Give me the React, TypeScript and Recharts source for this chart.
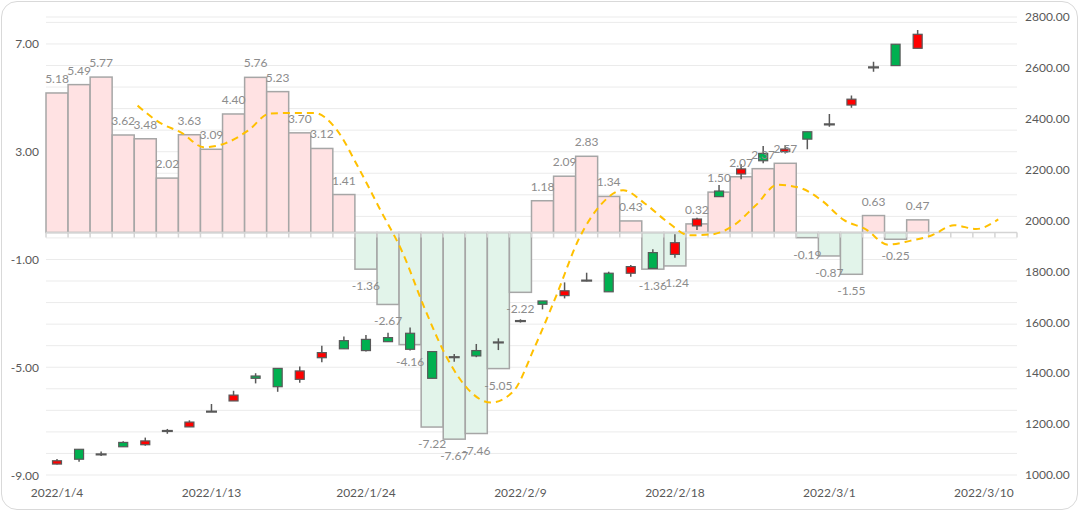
import React from "react";
import {
  ComposedChart,
  Bar,
  Line,
  XAxis,
  YAxis,
  CartesianGrid,
  ReferenceLine,
  LabelList,
} from "recharts";

const DATES = [
  "2022/1/4", "2022/1/5", "2022/1/6", "2022/1/7", "2022/1/10", "2022/1/11", "2022/1/12",
  "2022/1/13", "2022/1/14", "2022/1/17", "2022/1/18", "2022/1/19", "2022/1/20", "2022/1/21",
  "2022/1/24", "2022/1/25", "2022/1/26", "2022/1/27", "2022/1/28", "2022/2/7", "2022/2/8",
  "2022/2/9", "2022/2/10", "2022/2/11", "2022/2/14", "2022/2/15", "2022/2/16", "2022/2/17",
  "2022/2/18", "2022/2/21", "2022/2/22", "2022/2/23", "2022/2/24", "2022/2/25", "2022/2/28",
  "2022/3/1", "2022/3/2", "2022/3/3", "2022/3/4", "2022/3/7", "2022/3/8", "2022/3/9",
  "2022/3/10", "2022/3/11",
];

// bar values (left axis)
const CHANGE = [
  5.18, 5.49, 5.77, 3.62, 3.48, 2.02, 3.63, 3.09, 4.4, 5.76, 5.23, 3.7, 3.12, 1.41,
  -1.36, -2.67, -4.16, -7.22, -7.67, -7.46, -5.05, -2.22, 1.18, 2.09, 2.83, 1.34, 0.43,
  -1.36, -1.24, 0.32, 1.5, 2.07, 2.37, 2.57, -0.19, -0.87, -1.55, 0.63, -0.25, 0.47,
  null, null, null, null,
];

// candles (right axis)
const OPEN = [
  1043, 1101, 1081, 1128, 1119, 1173, 1189, 1249, 1291, 1389, 1419, 1376, 1461, 1528,
  1533, 1540, 1557, 1485, 1463, 1489, 1521, 1605, 1684, 1705, 1764, 1793, 1793, 1874,
  1867, 1979, 2116, 2183, 2264, 2271, 2349, 2378, 2454, 2602, 2693, 2677,
  null, null, null, null,
];
const HIGH = [
  1063, 1102, 1092, 1133, 1147, 1181, 1215, 1279, 1331, 1400, 1419, 1426, 1508, 1544,
  1550, 1559, 1580, 1485, 1476, 1515, 1537, 1612, 1684, 1757, 1795, 1799, 1825, 1887,
  1946, 2011, 2140, 2221, 2293, 2297, 2349, 2419, 2491, 2624, 2693, 2749,
  null, null, null, null,
];
const LOW = [
  1041, 1052, 1075, 1111, 1115, 1162, 1189, 1249, 1291, 1360, 1327, 1363, 1443, 1496,
  1485, 1524, 1489, 1380, 1445, 1463, 1491, 1599, 1651, 1694, 1761, 1720, 1779, 1812,
  1854, 1963, 2094, 2162, 2225, 2264, 2280, 2369, 2443, 2585, 2609, 2677,
  null, null, null, null,
];
const CLOSE = [
  1056, 1062, 1081, 1111, 1134, 1173, 1208, 1249, 1314, 1380, 1347, 1409, 1481, 1496,
  1489, 1524, 1494, 1380, 1463, 1468, 1521, 1605, 1671, 1724, 1764, 1720, 1819, 1812,
  1913, 2006, 2094, 2203, 2235, 2281, 2320, 2378, 2477, 2602, 2609, 2732,
  null, null, null, null,
];

// dashed average line (left axis)
const MA5 = [
  null, null, null, null,
  4.71, 4.08, 3.7, 3.17, 3.32, 3.78, 4.42, 4.44, 4.44, 3.84, 2.42, 0.84, -0.73, -2.8,
  -4.62, -5.84, -6.31, -5.92, -4.24, -2.29, -0.23, 1.04, 1.57, 1.07, 0.4, -0.1, -0.07,
  0.26, 1.0, 1.77, 1.66, 1.19, 0.47, 0.12, -0.45, -0.31, -0.1, 0.27, 0.13, 0.49,
];

const LEFT_GRID = [
  -9, -8.2, -7.4, -6.6, -5.8, -5, -4.2, -3.4, -2.6, -1.8, -1, -0.2, 0.6, 1.4, 2.2, 3,
  3.8, 4.6, 5.4, 6.2, 7, 7.8,
];
const LEFT_LABELS = [-9, -5, -1, 3, 7];
const RIGHT_TICKS = [1000, 1200, 1400, 1600, 1800, 2000, 2200, 2400, 2600, 2800];
const DATE_TICKS = ["2022/1/4", "2022/1/13", "2022/1/24", "2022/2/9", "2022/2/18", "2022/3/1", "2022/3/10"];

const data = DATES.map((date, i) => ({
  date,
  idx: i,
  change: CHANGE[i],
  open: OPEN[i],
  high: HIGH[i],
  low: LOW[i],
  close: CLOSE[i],
  ma: MA5[i],
}));

const AXIS_TEXT = "#595959";
const LABEL_TEXT = "#8c8c8c";

function LeftTick(props: any) {
  const { x, y, payload } = props;
  if (!LEFT_LABELS.includes(payload.value)) return <g />;
  return (
    <text x={x} y={y} textAnchor="end" dominantBaseline="central" fill={AXIS_TEXT} fontSize={12}>
      {payload.value.toFixed(2)}
    </text>
  );
}

function ChangeBar(props: any) {
  const { x, y, width, height, payload } = props;
  const v = payload?.change;
  if (v == null || height == null) return <g />;
  const top = Math.min(y, y + height);
  const h = Math.abs(height);
  return (
    <rect
      x={x}
      y={top}
      width={width}
      height={h}
      fill={v >= 0 ? "#ffe2e3" : "#e2f4ea"}
      stroke="#a6a6a6"
      strokeWidth={1.5}
    />
  );
}

function ChangeLabel(props: any) {
  const vb = props.viewBox ?? props;
  const value = props.value;
  if (value == null || vb == null) return <g />;
  const { x, y, width, height } = vb;
  const top = Math.min(y, y + height);
  const bottom = Math.max(y, y + height);
  const ty = value >= 0 ? top - 10 : bottom + 21;
  return (
    <text x={x + width / 2} y={ty} textAnchor="middle" fill={LABEL_TEXT} fontSize={12}>
      {Number(value).toFixed(2)}
    </text>
  );
}

function ZeroAxis(props: any) {
  const { x1, x2, y1 } = props;
  const n = DATES.length;
  const step = (x2 - x1) / n;
  return (
    <g>
      <line x1={x1} x2={x2} y1={y1} y2={y1} stroke="#d4d4d4" strokeWidth={1.5} />
      {Array.from({ length: n + 1 }, (_, k) => (
        <line
          key={k}
          x1={x1 + k * step}
          x2={x1 + k * step}
          y1={y1}
          y2={y1 + 5}
          stroke="#d4d4d4"
          strokeWidth={1.5}
        />
      ))}
    </g>
  );
}

function Candle(props: any) {
  const { x, y, width, height, payload } = props;
  if (!payload || payload.high == null) return <g />;
  const { open, high, low, close } = payload;
  const top = Math.min(y, y + height);
  const h = Math.abs(height);
  const ppu = high > low ? h / (high - low) : 0;
  const py = (v: number) => top + (high - v) * ppu;
  const cx = x + width / 2;
  const bw = 9;
  const up = close > open;
  return (
    <g>
      <line x1={cx} x2={cx} y1={top} y2={top + h} stroke="#595959" strokeWidth={1.5} />
      {open === close ? (
        <line x1={cx - bw / 2 - 1} x2={cx + bw / 2 + 1} y1={py(open)} y2={py(open)} stroke="#595959" strokeWidth={2.2} />
      ) : (
        <rect
          x={cx - bw / 2}
          y={py(Math.max(open, close))}
          width={bw}
          height={Math.max(1.5, Math.abs(open - close) * ppu)}
          fill={up ? "#ff0000" : "#00b050"}
          stroke="#595959"
          strokeWidth={1.2}
        />
      )}
    </g>
  );
}

export default function App() {
  return (
    <div
      style={{
        position: "absolute",
        left: 0,
        top: 0,
        width: 1080,
        height: 512,
        background: "#fff",
        fontFamily: "Lato, 'Noto Sans', sans-serif",
      }}
    >
      <div
        style={{
          position: "absolute",
          left: 1,
          top: 1,
          width: 1077,
          height: 509,
          border: "1.5px solid #d9d9d9",
          borderRadius: 16,
          boxSizing: "border-box",
        }}
      />
      <ComposedChart
        width={1080}
        height={512}
        data={data}
        margin={{ top: 17, right: 0, bottom: 7, left: 0 }}
        barCategoryGap={0}
        barGap={0}
      >
        <CartesianGrid yAxisId="left" xAxisId="cat" vertical={false} stroke="#ebebeb" />
        <XAxis
          xAxisId="cat"
          dataKey="date"
          ticks={DATE_TICKS}
          interval={0}
          axisLine={false}
          tickLine={false}
          tickSize={0}
          tickMargin={13}
          height={30}
          tick={{ fill: AXIS_TEXT, fontSize: 12 }}
        />
        <XAxis xAxisId="cat2" dataKey="date" hide />
        <XAxis
          xAxisId="num"
          dataKey="idx"
          type="number"
          domain={[-0.15, 43.85]}
          allowDataOverflow
          hide
        />
        <YAxis
          yAxisId="left"
          orientation="left"
          width={46}
          domain={[-9, 8]}
          ticks={LEFT_GRID}
          interval={0}
          allowDataOverflow
          axisLine={false}
          tickLine={false}
          tickSize={0}
          tickMargin={7}
          tick={LeftTick}
        />
        <YAxis
          yAxisId="right"
          orientation="right"
          width={63}
          domain={[1000, 2800]}
          ticks={RIGHT_TICKS}
          interval={0}
          allowDataOverflow
          axisLine={false}
          tickLine={false}
          tickSize={0}
          tickMargin={8}
          tick={{ fill: AXIS_TEXT, fontSize: 12 }}
          tickFormatter={(v: number) => v.toFixed(2)}
        />
        <Bar
          xAxisId="cat"
          yAxisId="left"
          dataKey="change"
          shape={ChangeBar}
          isAnimationActive={false}
        >
          <LabelList dataKey="change" content={ChangeLabel} />
        </Bar>
        <ReferenceLine xAxisId="cat" yAxisId="left" y={0} shape={ZeroAxis} />
        <Line
          xAxisId="num"
          yAxisId="left"
          dataKey="ma"
          type="monotone"
          stroke="#ffc000"
          strokeWidth={2}
          strokeDasharray="7 5"
          dot={false}
          activeDot={false}
          isAnimationActive={false}
        />
        <Bar
          xAxisId="cat2"
          yAxisId="right"
          dataKey={(d: any) => (d.high == null ? null : [d.low, d.high])}
          shape={Candle}
          isAnimationActive={false}
        />
      </ComposedChart>
    </div>
  );
}
